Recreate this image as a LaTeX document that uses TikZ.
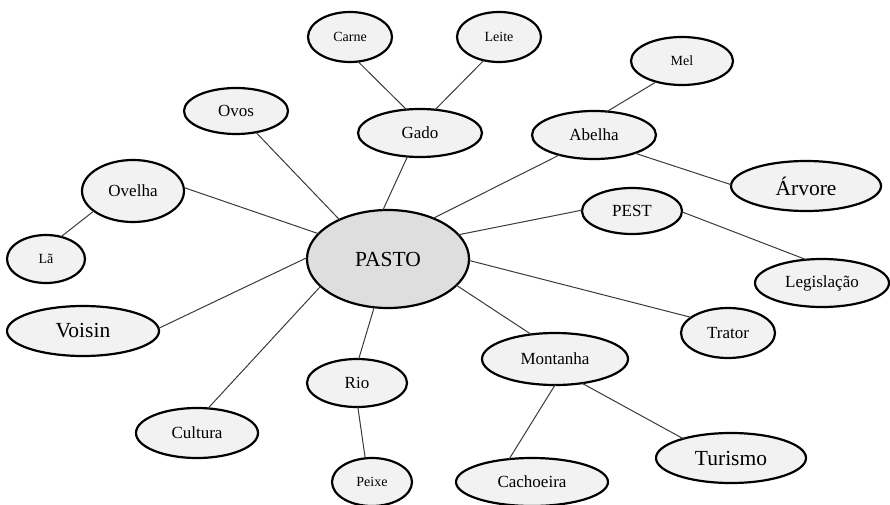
\documentclass[tikz,border=0pt]{standalone}
\usepackage{fontspec}
\setmainfont{Liberation Serif}
\usetikzlibrary{shapes.geometric}
\definecolor{bubble}{HTML}{F2F2F2}
\definecolor{hub}{HTML}{DEDEDE}
\definecolor{link}{HTML}{3A3A3A}
\tikzset{
  bubble/.style={ellipse, draw=black, line width=2.2pt, fill=bubble, inner sep=0pt, outer sep=0pt},
  small/.style={font=\fontsize{14}{16}\selectfont},
  medium/.style={font=\fontsize{17}{19}\selectfont},
  large/.style={font=\fontsize{21.5}{23}\selectfont},
  link/.style={draw=link, line width=1pt}
}
\newcommand{\bub}[6]{% name, x, y, rx, ry, size style / text
  \node[bubble, #6, minimum width=#4*2pt, minimum height=#5*2pt] (#1) at (#2,#3)}
\begin{document}
\begin{tikzpicture}[x=1pt, y=-1pt]
\useasboundingbox (0,0) rectangle (890,505);
% central idea
\node[bubble, fill=hub, minimum width=162pt, minimum height=98pt,
      font=\fontsize{21.5}{23}\selectfont] (pasto) at (388,259) {PASTO};
% branches
\bub{carne}{350}{37}{42}{25}{small} {Carne};
\bub{leite}{499}{37}{42}{25}{small} {Leite};
\bub{gado}{420}{133}{62}{24}{medium} {Gado};
\bub{mel}{682}{61}{51}{24}{small} {Mel};
\bub{abelha}{594}{135}{62}{24}{medium} {Abelha};
\bub{arvore}{806}{186}{75}{25}{large} {Árvore};
\bub{pest}{632}{211}{50}{23}{medium} {PEST};
\bub{legis}{822}{283}{67}{24}{medium} {Legislação};
\bub{trator}{728}{333}{47}{25}{medium} {Trator};
\bub{montanha}{555}{359}{73}{26}{medium} {Montanha};
\bub{turismo}{731}{458}{75}{25}{large} {Turismo};
\bub{cachoeira}{532}{482}{76}{24}{medium} {Cachoeira};
\bub{peixe}{372}{482}{40}{24}{small} {Peixe};
\bub{rio}{357}{383}{50}{24}{medium} {Rio};
\bub{cultura}{197}{433}{61}{25}{medium} {Cultura};
\bub{voisin}{83}{331}{76}{25}{large} {Voisin};
\bub{la}{46}{259}{39}{24}{small} {Lã};
\bub{ovelha}{133}{191}{51}{31}{medium} {Ovelha};
\bub{ovos}{236}{111}{52}{23}{medium} {Ovos};
% spokes from the centre
\path[link] (pasto.141) -- (ovos.-47);
\path[link] (pasto.160) -- (ovelha.4);
\path[link] (pasto.179) -- (voisin.2);
\path[link] (pasto.202) -- (cultura.66);
\path[link] (pasto.254) -- (rio.86);
\path[link] (pasto.-21) -- (montanha.134);
\path[link] (pasto.-1) -- (trator.157);
\path[link] (pasto.19) -- (pest.179);
\path[link] (pasto.42) -- (abelha.210);
\path[link] (pasto.96) -- (gado.242);
% second-level links
\path[link] (ovelha.207) -- (la.56);
\path[link] (gado.120) -- (carne.-72);
\path[link] (gado.57) -- (leite.237);
\path[link] (abelha.61) -- (mel.219);
\path[link] (abelha.-24) -- (arvore.179);
\path[link] (pest.-1) -- (legis.124);
\path[link] (montanha.-90) -- (cachoeira.135);
\path[link] (montanha.-42) -- (turismo.158);
\path[link] (rio.-88) -- (peixe.106);
\end{tikzpicture}
\end{document}
